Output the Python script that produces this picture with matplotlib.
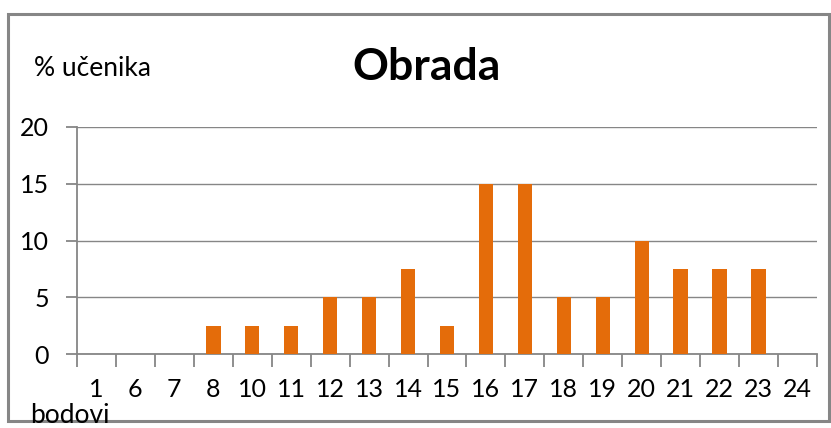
import matplotlib
matplotlib.use("Agg")
import matplotlib.pyplot as plt
from matplotlib.patches import Rectangle
import numpy as np

plt.rcParams['font.family'] = ['Lato', 'DejaVu Sans']

# points scored and share of students
bodovi = ["1", "6", "7", "8", "10", "11", "12", "13", "14", "15",
          "16", "17", "18", "19", "20", "21", "22", "23", "24"]
ucenika = [0, 0, 0, 2.5, 2.5, 2.5, 5, 5, 7.5, 2.5,
           15, 15, 5, 5, 10, 7.5, 7.5, 7.5, 0]
yticks = [0, 5, 10, 15, 20]

W, H = 831, 428
fig = plt.figure(figsize=(W / 100, H / 100), dpi=100)

def px(x0, y0, x1, y1):
    # pixel box (top-left origin) -> figure fraction rect
    return [x0 / W, 1 - y1 / H, (x1 - x0) / W, (y1 - y0) / H]

grey = "#868686"
fig.patches.append(Rectangle((8 / W, 1 - 421 / H), (829 - 8) / W, (421 - 14) / H,
                             transform=fig.transFigure, fill=False,
                             edgecolor=grey, lw=2.2))

ax = fig.add_axes(px(77, 127, 817, 354))
x = np.arange(len(bodovi))
ax.bar(x, ucenika, width=0.37, color="#E46C0A", zorder=3)

ax.set_xlim(-0.5, len(bodovi) - 0.5)
ax.set_ylim(0, 20)
ax.set_yticks(yticks)
ax.yaxis.grid(True, color=grey, lw=1)
ax.set_axisbelow(True)
for s in ["top", "right"]:
    ax.spines[s].set_visible(False)
for s in ["left", "bottom"]:
    ax.spines[s].set_color(grey)
    ax.spines[s].set_linewidth(1.3)

ax.tick_params(axis="y", length=8, color=grey, width=1.3, labelsize=18, pad=12)
ax.set_xticks(np.arange(len(bodovi) + 1) - 0.5)
ax.set_xticklabels([])
ax.set_xticks(x, minor=True)
ax.set_xticklabels(bodovi, minor=True)
ax.tick_params(axis="x", which="major", length=9, color=grey, width=1.3, direction="out")
ax.tick_params(axis="x", which="minor", length=0, labelsize=18, pad=17)

fig.text(427 / W, 1 - 67 / H, "Obrada", ha="center", va="center",
         fontsize=32, fontweight="bold")
fig.text(34 / W, 1 - 69 / H, "% učenika", ha="left", va="center", fontsize=19)
fig.text(30 / W, 1 - 423 / H, "bodovi", ha="left", va="baseline", fontsize=19)

fig.savefig("out.png", dpi=100)
